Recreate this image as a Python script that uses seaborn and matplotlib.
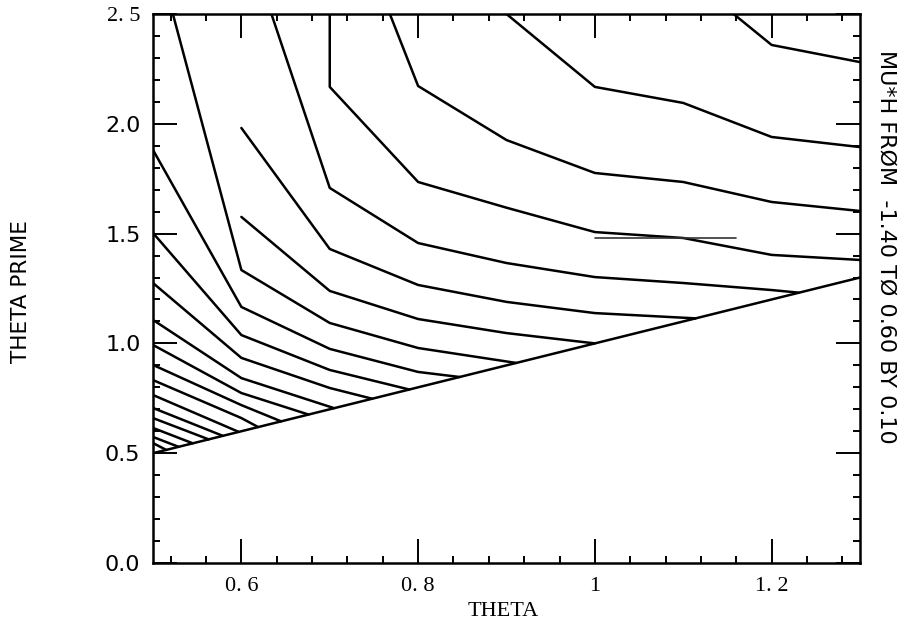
import matplotlib
matplotlib.use("Agg")
import matplotlib.pyplot as plt
import numpy as np
import pandas as pd
import seaborn as sns
from matplotlib.ticker import FixedLocator

# ---- contour polylines (THETA, THETA PRIME) ----
c01_x = [1.157, 1.2, 1.3]
c01_y = [2.5, 2.359, 2.281]
c02_x = [0.9, 1.0, 1.1, 1.2, 1.3]
c02_y = [2.5, 2.168, 2.095, 1.940, 1.894]
c03_x = [0.768, 0.8, 0.9, 1.0, 1.1, 1.2, 1.3]
c03_y = [2.5, 2.172, 1.926, 1.776, 1.735, 1.644, 1.603]
c04_x = [0.7, 0.7, 0.8, 0.9, 1.0, 1.1, 1.2, 1.3]
c04_y = [2.5, 2.168, 1.735, 1.618, 1.507, 1.480, 1.403, 1.380]
c05_x = [0.634, 0.7, 0.8, 0.9, 1.0, 1.1, 1.2, 1.231]
c05_y = [2.5, 1.708, 1.457, 1.366, 1.302, 1.275, 1.243, 1.231]
c06_x = [0.6, 0.7, 0.8, 0.9, 1.0, 1.114]
c06_y = [1.981, 1.430, 1.266, 1.189, 1.138, 1.114]
c07_x = [0.6, 0.7, 0.8, 0.9, 1.0]
c07_y = [1.576, 1.239, 1.111, 1.047, 1.0]
c08_x = [0.5225, 0.6, 0.7, 0.8, 0.911]
c08_y = [2.5, 1.334, 1.093, 0.979, 0.911]
c09_x = [0.5, 0.6, 0.7, 0.8, 0.847]
c09_y = [1.881, 1.166, 0.975, 0.870, 0.847]
c10_x = [0.5, 0.6, 0.7, 0.79]
c10_y = [1.503, 1.038, 0.879, 0.79]
c11_x = [0.5, 0.6, 0.7, 0.748]
c11_y = [1.275, 0.934, 0.797, 0.748]
c12_x = [0.5, 0.6, 0.705]
c12_y = [1.107, 0.842, 0.705]
c13_x = [0.5, 0.6, 0.676]
c13_y = [0.993, 0.774, 0.676]
c14_x = [0.5, 0.6, 0.645]
c14_y = [0.902, 0.719, 0.645]
c15_x = [0.5, 0.6, 0.619]
c15_y = [0.833, 0.660, 0.619]
c16_x = [0.5, 0.597]
c16_y = [0.765, 0.597]
c17_x = [0.5, 0.579]
c17_y = [0.706, 0.579]
c18_x = [0.5, 0.563]
c18_y = [0.660, 0.563]
c19_x = [0.5, 0.545]
c19_y = [0.615, 0.545]
c20_x = [0.5, 0.529]
c20_y = [0.574, 0.529]
c21_x = [0.5, 0.515]
c21_y = [0.546, 0.515]

# boundary THETA PRIME = THETA
bound_x = [0.5, 1.3]
bound_y = [0.5, 1.3]
# stray horizontal stroke
stray_x = [1.0, 1.16]
stray_y = [1.48, 1.48]

x_ticks = [0.6, 0.8, 1.0, 1.2]
x_tick_labels = ["0. 6", "0. 8", "1", "1. 2"]
x_minor = [0.52, 0.56, 0.64, 0.68, 0.72, 0.76, 0.84, 0.88, 0.92, 0.96,
           1.04, 1.08, 1.12, 1.16, 1.24, 1.28]
y_ticks = [0.0, 0.5, 1.0, 1.5, 2.0, 2.5]
y_tick_labels = ["0.0", "0.5", "1.0", "1.5", "2.0", "2. 5"]
y_minor = [0.1, 0.2, 0.3, 0.4, 0.6, 0.7, 0.8, 0.9, 1.1, 1.2, 1.3, 1.4,
           1.6, 1.7, 1.8, 1.9, 2.1, 2.2, 2.3, 2.4]

contours = {
    "c01": (c01_x, c01_y), "c02": (c02_x, c02_y), "c03": (c03_x, c03_y),
    "c04": (c04_x, c04_y), "c05": (c05_x, c05_y), "c06": (c06_x, c06_y),
    "c07": (c07_x, c07_y), "c08": (c08_x, c08_y), "c09": (c09_x, c09_y),
    "c10": (c10_x, c10_y), "c11": (c11_x, c11_y), "c12": (c12_x, c12_y),
    "c13": (c13_x, c13_y), "c14": (c14_x, c14_y), "c15": (c15_x, c15_y),
    "c16": (c16_x, c16_y), "c17": (c17_x, c17_y), "c18": (c18_x, c18_y),
    "c19": (c19_x, c19_y), "c20": (c20_x, c20_y), "c21": (c21_x, c21_y),
    "bound": (bound_x, bound_y),
}

rows = []
for name, (xs, ys) in contours.items():
    for i, (xv, yv) in enumerate(zip(xs, ys)):
        rows.append({"line": name, "order": i, "theta": xv, "theta_prime": yv})
df = pd.DataFrame(rows)
df_stray = pd.DataFrame({"theta": stray_x, "theta_prime": stray_y})

sns.set_theme(style="white")
plt.rcParams['font.family'] = ['DejaVu Sans']

fig = plt.figure(figsize=(9.01, 6.28), dpi=100)
ax = fig.add_axes([153 / 901, 1 - 563 / 628, (860 - 153) / 901, (563 - 14) / 628])

sns.lineplot(data=df, x="theta", y="theta_prime", units="line", estimator=None,
             sort=False, color="black", linewidth=1.8, ax=ax, legend=False)
sns.lineplot(data=df_stray, x="theta", y="theta_prime", estimator=None, sort=False,
             color="#333333", linewidth=1.2, ax=ax, legend=False)

ax.set_xlim(0.5, 1.3)
ax.set_ylim(0.0, 2.5)
ax.set_xlabel("")
ax.set_ylabel("")

ax.set_xticks(x_ticks)
ax.set_xticklabels(x_tick_labels, family="Liberation Serif", fontsize=16)
ax.xaxis.set_minor_locator(FixedLocator(x_minor))
ax.set_yticks(y_ticks)
ax.set_yticklabels(y_tick_labels, fontsize=16)
for lab in ax.get_yticklabels():
    if lab.get_text() == "2. 5":
        lab.set_fontfamily("Liberation Serif")
ax.yaxis.set_minor_locator(FixedLocator(y_minor))

ax.tick_params(which="both", direction="in", top=True, right=True, bottom=True,
               left=True, color="black", width=1.4, labelcolor="black")
ax.tick_params(which="major", length=17)
ax.tick_params(which="minor", length=5)
ax.tick_params(axis="x", which="major", pad=10)
ax.tick_params(axis="y", which="major", pad=9)

for sp in ax.spines.values():
    sp.set_color("black")
    sp.set_linewidth(1.8)
ax.grid(False)

fig.text(21 / 901, 1 - 292 / 628, "THETA PRIME", rotation=90, ha="center",
         va="center", fontsize=15.5, color="black")
fig.text(503 / 901, 1 - 612 / 628, "THETA", family="Liberation Serif",
         ha="center", va="center", fontsize=16, color="black")
fig.text(886 / 901, 1 - 247 / 628, "MU*H FRØM  -1.40 TØ 0.60 BY 0.10",
         rotation=-90, ha="center", va="center", fontsize=16, color="black")

fig.savefig("out.png", dpi=100)
